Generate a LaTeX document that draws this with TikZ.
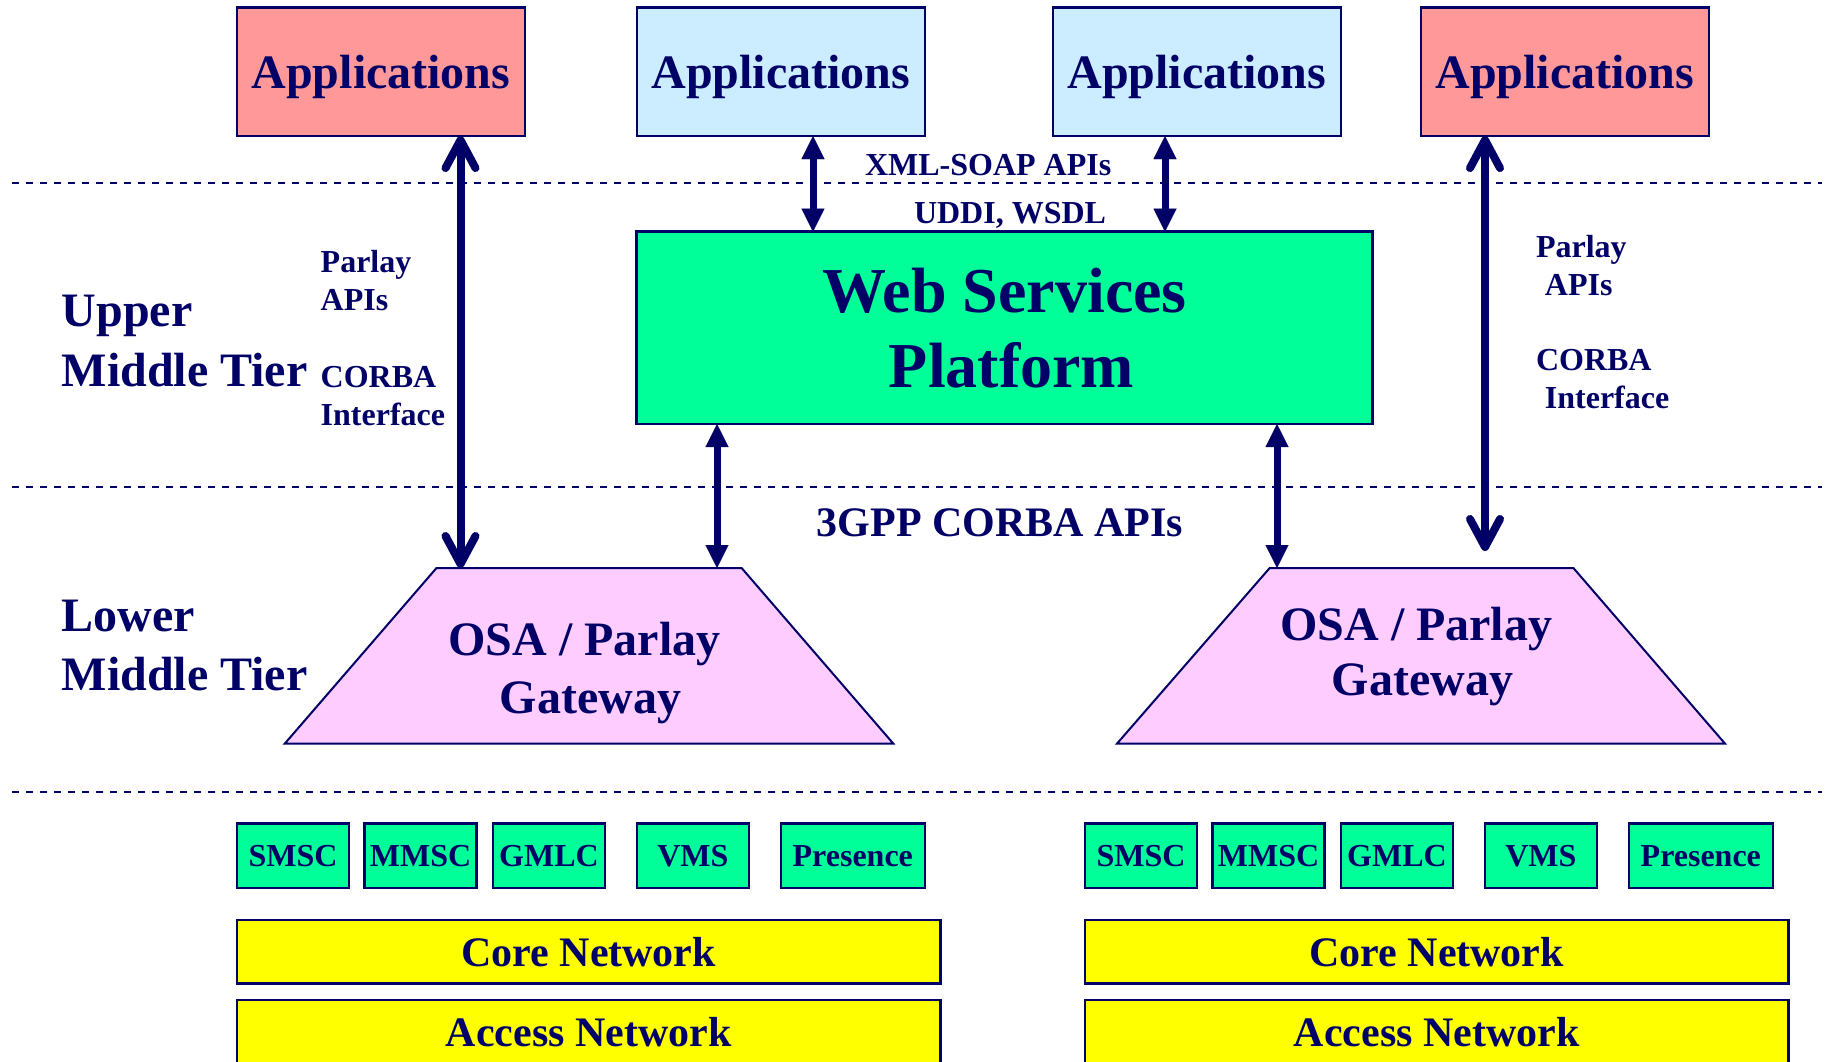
\documentclass[tikz,border=0pt]{standalone}
\usepackage{fontspec}
\setmainfont{Liberation Serif}
\usetikzlibrary{arrows.meta}

\definecolor{navy}{RGB}{0,0,102}
\definecolor{appred}{RGB}{255,153,153}
\definecolor{appblue}{RGB}{204,236,255}
\definecolor{wsgreen}{RGB}{0,255,153}
\definecolor{gwpink}{RGB}{255,204,255}
\definecolor{netyellow}{RGB}{255,255,0}

\tikzset{
  txt/.style={text=navy, inner sep=0pt, outer sep=0pt},
  f32/.style={font=\bfseries\fontsize{32}{38}\selectfont},
  f42/.style={font=\bfseries\fontsize{42}{50}\selectfont},
  f48/.style={font=\bfseries\fontsize{48}{58}\selectfont},
  f64/.style={font=\bfseries\fontsize{64}{75}\selectfont},
  box/.style={txt, draw=navy, line width=2.5pt},
  appbox/.style={box, f48, minimum width=288pt, minimum height=128.7pt,
    text height=34pt, text depth=0pt},
  svcbox/.style={box, f32, fill=wsgreen, minimum height=64.3pt,
    text height=22pt, text depth=0pt},
  netbox/.style={box, f42, fill=netyellow, minimum width=703.5pt,
    minimum height=63.6pt, text height=28.4pt, text depth=0pt},
  gateway/.style={draw=navy, fill=gwpink, line width=2pt, line join=miter},
  tier/.style={txt, f48, anchor=base west},
  apilabel/.style={txt, f32, anchor=base west},
  tier rule/.style={navy, line width=2pt, dash pattern=on 7pt off 7pt},
  barbarrow/.style={navy, line width=8pt,
    {Straight Barb[length=28pt,width=30pt,round]}-{Straight Barb[length=28pt,width=30pt,round]}},
  triarrow/.style={navy, line width=7pt,
    {Triangle[length=23pt,width=23pt,line width=0.1pt]}-{Triangle[length=23pt,width=23pt,line width=0.1pt]}},
}

\begin{document}
\begin{tikzpicture}[x=1pt,y=-1pt]
\useasboundingbox (0,0) rectangle (1832,1061);
\fill[white] (0,0) rectangle (1832,1061);
\clip (0,0) rectangle (1832,1061);

% tier separators
\draw[tier rule] (12,183.3) -- (1822,183.3);
\draw[tier rule] (12,487.3) -- (1822,487.3);
\draw[tier rule] (12,791.8) -- (1822,791.8);

% application boxes
\node[appbox, fill=appred]  (app1) at (381,71.7)    {Applications};
\node[appbox, fill=appblue] (app2) at (780.8,71.7)  {Applications};
\node[appbox, fill=appblue] (app3) at (1196.9,71.7) {Applications};
\node[appbox, fill=appred]  (app4) at (1564.9,71.7) {Applications};

% web services platform
\node[box, fill=wsgreen, f64, align=center, minimum width=735.8pt,
      minimum height=192.3pt] (ws) at (1004.6,327.85)
      {Web Services\\\hspace*{14pt}Platform};

% OSA / Parlay gateways (trapezoids)
\coordinate (gwLtl) at (436.5,568);   \coordinate (gwLtr) at (741.6,568);
\coordinate (gwLbr) at (893.3,743.6); \coordinate (gwLbl) at (284.8,743.6);
\coordinate (gwRtl) at (1269.7,568);  \coordinate (gwRtr) at (1573.4,568);
\coordinate (gwRbr) at (1725,743.6);  \coordinate (gwRbl) at (1117,743.6);
\draw[gateway] (gwLtl) -- (gwLtr) -- (gwLbr) -- (gwLbl) -- cycle;
\draw[gateway] (gwRtl) -- (gwRtr) -- (gwRbr) -- (gwRbl) -- cycle;
\node[txt, f48, anchor=base] (gwLa) at (584.5,655.5) {OSA / Parlay};
\node[txt, f48, anchor=base] (gwLb) at (590.6,713)   {Gateway};
\node[txt, f48, anchor=base] (gwRa) at (1416.3,640)  {OSA / Parlay};
\node[txt, f48, anchor=base] (gwRb) at (1422.5,695.7) {Gateway};

% network elements, left network
\node[svcbox, minimum width=112pt] (smscL) at (293,855.6)   {SMSC};
\node[svcbox, minimum width=112pt] (mmscL) at (420.5,855.6) {MMSC};
\node[svcbox, minimum width=112pt] (gmlcL) at (549,855.6)   {GMLC};
\node[svcbox, minimum width=112pt] (vmsL)  at (692.8,855.6) {VMS};
\node[svcbox, minimum width=144pt] (presL) at (852.8,855.6) {Presence};
\node[netbox] (coreL)   at (588.7,951.8) {Core Network};
\node[netbox, minimum height=64pt] (accessL) at (588.7,1032) {Access Network};

% network elements, right network
\node[svcbox, minimum width=112pt] (smscR) at (1141,855.6)   {SMSC};
\node[svcbox, minimum width=112pt] (mmscR) at (1268.5,855.6) {MMSC};
\node[svcbox, minimum width=112pt] (gmlcR) at (1397,855.6)   {GMLC};
\node[svcbox, minimum width=112pt] (vmsR)  at (1540.8,855.6) {VMS};
\node[svcbox, minimum width=144pt] (presR) at (1700.8,855.6) {Presence};
\node[netbox] (coreR)   at (1436.7,951.8) {Core Network};
\node[netbox, minimum height=64pt] (accessR) at (1436.7,1032) {Access Network};

% tier names
\node[tier] (upperA) at (61.7,326.7) {Upper};
\node[tier] (upperB) at (61.7,386)   {Middle Tier};
\node[tier] (lowerA) at (61.7,631.3) {Lower};
\node[tier] (lowerB) at (61.7,690)   {Middle Tier};

% interface labels
\node[apilabel] (plA) at (320.7,272) {Parlay};
\node[apilabel] (plB) at (320.7,310) {APIs};
\node[apilabel] (plC) at (320.7,387) {CORBA};
\node[apilabel] (plD) at (320.7,425) {Interface};
\node[apilabel] (prA) at (1536,257)   {Parlay};
\node[apilabel] (prB) at (1544.9,295) {APIs};
\node[apilabel] (prC) at (1536,370)   {CORBA};
\node[apilabel] (prD) at (1544.9,408) {Interface};
\node[apilabel] (xmlsoap) at (865,175.7) {XML-SOAP APIs};
\node[apilabel] (uddi)    at (914,223.3) {UDDI, WSDL};
\node[txt, f42, anchor=base west] (gppapi) at (816.7,536.7) {3GPP CORBA APIs};

% connector positions
\coordinate (xA1) at (460.5,0);
\coordinate (xA2) at (813,0);
\coordinate (xA3) at (1165,0);
\coordinate (xA4) at (717,0);
\coordinate (xA5) at (1277,0);
\coordinate (xA6) at (1485,0);
\coordinate (a6end) at (1485,551);

% connectors
\draw[barbarrow] (app1.south -| xA1) -- (gwLtl -| xA1);
\draw[triarrow]  (app2.south -| xA2) -- (ws.north -| xA2);
\draw[triarrow]  (app3.south -| xA3) -- (ws.north -| xA3);
\draw[triarrow]  (ws.south -| xA4) -- (gwLtl -| xA4);
\draw[triarrow]  (ws.south -| xA5) -- (gwRtl -| xA5);
\draw[barbarrow] (app4.south -| xA6) -- (a6end);
\end{tikzpicture}
\end{document}
